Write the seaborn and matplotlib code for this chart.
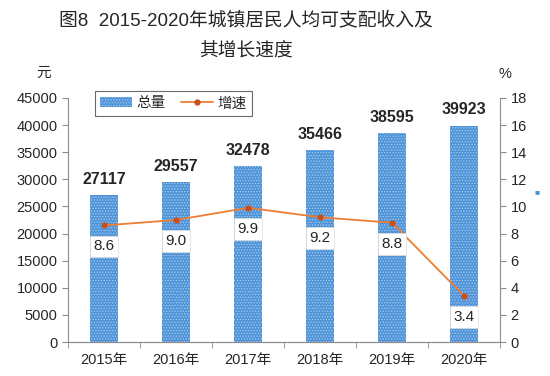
import pandas as pd
import seaborn as sns
import matplotlib.pyplot as plt
from matplotlib.patches import Patch
from matplotlib.lines import Line2D

years = ["2015年", "2016年", "2017年", "2018年", "2019年", "2020年"]
income = [27117, 29557, 32478, 35466, 38595, 39923]
growth = [8.6, 9.0, 9.9, 9.2, 8.8, 3.4]

sns.set_style("white")
plt.rcParams['font.family'] = ['Liberation Sans', 'Noto Sans CJK SC', 'DejaVu Sans']
plt.rcParams['hatch.linewidth'] = 0.6

df = pd.DataFrame({"year": years, "income": income, "growth": growth})

fig = plt.figure(figsize=(5.5, 3.76), dpi=100)
ax = fig.add_axes([0.1236, 0.0904, 0.7855, 0.649])

bar_color = "#4f93d8"
sns.barplot(data=df, x="year", y="income", ax=ax, color=bar_color, width=0.39,
            saturation=1, edgecolor="#a9cbef", linewidth=0, hatch="......")

for i, v in enumerate(income):
    ax.text(i, v + 1500, str(v), ha="center", va="bottom", fontsize=11.5,
            fontweight="bold")

ax.set_ylim(0, 45000)
ax.set_yticks(range(0, 45001, 5000))
ax.set_xlim(-0.5, 5.5)
ax.set_xlabel("")
ax.set_ylabel("")

ax2 = ax.twinx()
sns.pointplot(data=df, x="year", y="growth", ax=ax2, color="#ed7d31",
              markers="o", markersize=3.5, linewidth=1.3, errorbar=None)
for ln in ax2.lines:
    ln.set_markerfacecolor("#c8501c")
    ln.set_markeredgecolor("#c8501c")
ax2.set_ylim(0, 18)
ax2.set_yticks(range(0, 19, 2))
ax2.set_xlim(-0.5, 5.5)
ax2.set_ylabel("")
ax2.set_xlabel("")

for i, g in enumerate(growth):
    ax2.text(i, g - 1.55, f"{g:.1f}", ha="center", va="center", fontsize=11,
             bbox=dict(boxstyle="square,pad=0.25", fc="white", ec="#dddddd", lw=0.5))

spine_c = "#8c8c8c"
for a in (ax, ax2):
    for s in a.spines.values():
        s.set_color(spine_c)
        s.set_linewidth(0.8)
    a.spines["top"].set_visible(False)
ax.spines["right"].set_visible(False)
ax2.spines["left"].set_visible(False)

ax.tick_params(axis="y", direction="out", length=4, color=spine_c, labelsize=10.5, left=True)
ax2.tick_params(axis="y", direction="out", length=4, color=spine_c, labelsize=10.5, right=True)
ax.tick_params(axis="x", length=0, labelsize=10.5, pad=8)
ax.set_xticks([i - 0.5 for i in range(7)], minor=True)
ax.tick_params(axis="x", which="minor", direction="out", length=4, color=spine_c, bottom=True)

handles = [Patch(facecolor=bar_color, edgecolor="#a9cbef", hatch="......", linewidth=0),
           Line2D([0], [0], color="#ed7d31", marker="o", markersize=3.5,
                  markerfacecolor="#c8501c", markeredgecolor="#c8501c", lw=1.3)]
leg = fig.legend(handles, ["总量", "增速"], ncol=2, loc="upper left",
                 bbox_to_anchor=(88 / 550, 1 - 84 / 376), frameon=True, fancybox=False,
                 fontsize=10.5, handlelength=2.2, columnspacing=1.0, handletextpad=0.3,
                 borderpad=0.35)
leg.get_frame().set_edgecolor("#444444")
leg.get_frame().set_linewidth(0.8)

fig.text(246 / 550, 1 - 20 / 376, "图8  2015-2020年城镇居民人均可支配收入及",
         ha="center", va="center", fontsize=13.5)
fig.text(246 / 550, 1 - 52 / 376, "其增长速度", ha="center", va="center", fontsize=13.5)
fig.text(44 / 550, 1 - 73 / 376, "元", ha="center", va="center", fontsize=10.5)
fig.text(505 / 550, 1 - 74 / 376, "%", ha="center", va="center", fontsize=10.5)
fig.text(537 / 550, 1 - 193 / 376, "■", ha="center", va="center", fontsize=6,
         color=bar_color)

fig.savefig("out.png", dpi=100)
